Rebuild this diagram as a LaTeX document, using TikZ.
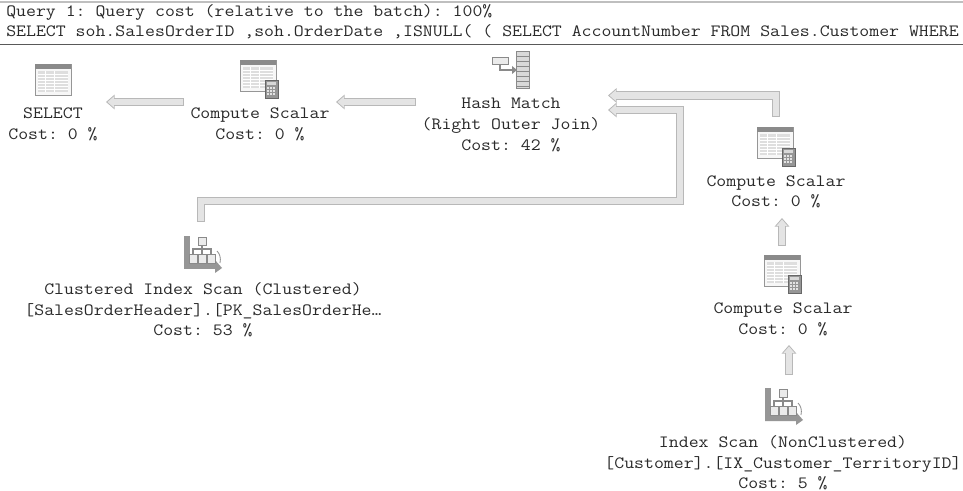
\documentclass[tikz,border=0pt]{standalone}
\usepackage{fontspec}
\setmainfont[FakeStretch=1.12]{Latin Modern Mono}
\usetikzlibrary{arrows.meta,calc}
\definecolor{txt}{HTML}{2A2A2A}
\definecolor{flowedge}{HTML}{B8B8B8}
\definecolor{flowfill}{HTML}{E4E4E4}
\definecolor{hdr}{HTML}{8A8A8A}
\definecolor{gridc}{HTML}{D8D8D8}
\newcommand{\tableicon}[2]{%
  \begin{scope}[shift={(#1,#2)}]
    \fill[white!97!black,draw=hdr!90,line width=.6pt] (0,0) rectangle (36,31);
    \fill[hdr] (0,0) rectangle (36,5);
    \fill[gridc!85] (3,7) rectangle (33,28);
    \foreach \yy in {10,13,16,19,22,25}{\draw[white,line width=.6pt] (3,\yy) -- (33,\yy);}
    \foreach \xx in {10,19}{\draw[white,line width=.7pt] (\xx,7) -- (\xx,28);}
  \end{scope}}
\newcommand{\calcicon}[2]{%
  \begin{scope}[shift={(#1,#2)}]
    \fill[hdr!90,draw=hdr!75!black,line width=.5pt] (0,0) rectangle (13,18);
    \fill[gridc] (2,2) rectangle (11,5);
    \foreach \yy in {7,10,13}{\foreach \xx in {2,5,8}{\fill[gridc!70] (\xx,\yy) rectangle ++(2,2);}}
  \end{scope}}
\newcommand{\scanicon}[2]{%
  \begin{scope}[shift={(#1,#2)}]
    \fill[hdr!90] (0,0) rectangle (6,33);
    \fill[hdr!90] (0,28) -- (31,28) -- (31,24) -- (38,32) -- (31,37) -- (31,33) -- (0,33) -- cycle;
    \draw[hdr,line width=.6pt] (33,15) .. controls (36,18) and (37,22) .. (36,27);
    \draw[hdr,line width=1.1pt] (18,9) -- (18,18) (9,18) -- (9,13) -- (27,13) -- (27,18);
    \fill[white!92!black,draw=hdr,line width=.5pt] (14,1) rectangle (22,9);
    \foreach \xx in {5,14,23}{\fill[white!92!black,draw=hdr,line width=.5pt] (\xx,18) rectangle ++(8,9);}
  \end{scope}}
\newcommand{\hashicon}[2]{%
  \begin{scope}[shift={(#1,#2)}]
    \draw[hdr,line width=1.8pt] (8,12) -- (8,18) -- (21,18);
    \fill[hdr] (20,14) -- (25,18) -- (20,22) -- cycle;
    \fill[white!92!black,draw=hdr,line width=.5pt] (0,5) rectangle (16,12);
    \fill[white!85!black,draw=hdr,line width=.5pt] (24,-1) rectangle (37,36);
    \foreach \yy in {4,9,14,19,24,29,34}{\draw[hdr,line width=.5pt] (24,\yy) -- (37,\yy);}
  \end{scope}}
\newcommand{\flowarrow}[1]{%
  \draw[flowedge,line width=6.6pt,miter limit=10,-{Triangle[width=10.8pt,length=6.5pt]}] #1;
  \draw[flowfill,line width=5pt,miter limit=10,shorten >=1.1pt,shorten <=.7pt,-{Triangle[width=8pt,length=4.8pt]}] #1;}
\tikzset{lbl/.style={inner sep=0pt,align=center,text=txt,font=\frenchspacing\fontsize{12.9pt}{15.5pt}\selectfont},
  hdrtext/.style={inner sep=0pt,anchor=west,text=txt,font=\frenchspacing\fontsize{12.9pt}{15.5pt}\selectfont}}
\begin{document}
\begin{tikzpicture}[x=.75pt,y=-.75pt]
\useasboundingbox (0,0) rectangle (963,491);
\fill[white] (0,0) rectangle (963,491);
\draw[gray!50,line width=.8pt] (0,2) -- (963,2);
\draw[black!65,line width=1.2pt] (0,44.5) -- (963,44.5);
\node[hdrtext] (q1) at (6,12.5) {Query 1: Query cost (relative to the batch): 100\%};
\node[hdrtext] (q2) at (6,31.5) {SELECT soh.SalesOrderID ,soh.OrderDate ,ISNULL( ( SELECT AccountNumber FROM Sales.Customer WHERE};
% icons
\tableicon{35}{64}
\tableicon{240}{60}\calcicon{265}{80}
\hashicon{492}{52}
\scanicon{184}{236}
\tableicon{757}{127}\calcicon{782}{148}
\tableicon{764}{255}\calcicon{788}{275}
\scanicon{765}{388}
% labels
\node[lbl] (selL) at (53,124.3) {SELECT\\Cost: 0 \%};
\node[lbl] (csAL) at (260,124.3) {Compute Scalar\\Cost: 0 \%};
\node[lbl] (hashL) at (511,124.8) {Hash Match\\(Right Outer Join)\\Cost: 42 \%};
\node[lbl] (clL) at (203,309.8) {Clustered Index Scan (Clustered)\\{[}SalesOrderHeader].[PK\_SalesOrderHe…\\Cost: 53 \%};
\node[lbl] (csBL) at (776,191.8) {Compute Scalar\\Cost: 0 \%};
\node[lbl] (csCL) at (783,319.3) {Compute Scalar\\Cost: 0 \%};
\node[lbl] (ixL) at (783,462.8) {Index Scan (NonClustered)\\{[}Customer].[IX\_Customer\_TerritoryID]\\Cost: 5 \%};
% connectors
\coordinate (bendA) at (201,201);
\coordinate (bendB) at (680,201);
\coordinate (bendC) at (680,110);
\flowarrow{([shift={(-76,-22.3)}]csAL.center) -- ([shift={(53,-22.3)}]selL.center)}
\flowarrow{([shift={(-95,-22.8)}]hashL.center) -- ([shift={(76,-22.3)}]csAL.center)}
\flowarrow{([shift={(0,-74.8)}]csBL.center) |- ([shift={(97,-29.3)}]hashL.center)}
\flowarrow{([shift={(-2,-87.8)}]clL.center) -- (bendA) -- (bendB) -- (bendC) -- ([shift={(97,-14.8)}]hashL.center)}
\flowarrow{([shift={(-1,-73.3)}]csCL.center) -- ([shift={(6,26.2)}]csBL.center)}
\flowarrow{([shift={(6,-87.8)}]ixL.center) -- ([shift={(6,25.7)}]csCL.center)}
\end{tikzpicture}
\end{document}
